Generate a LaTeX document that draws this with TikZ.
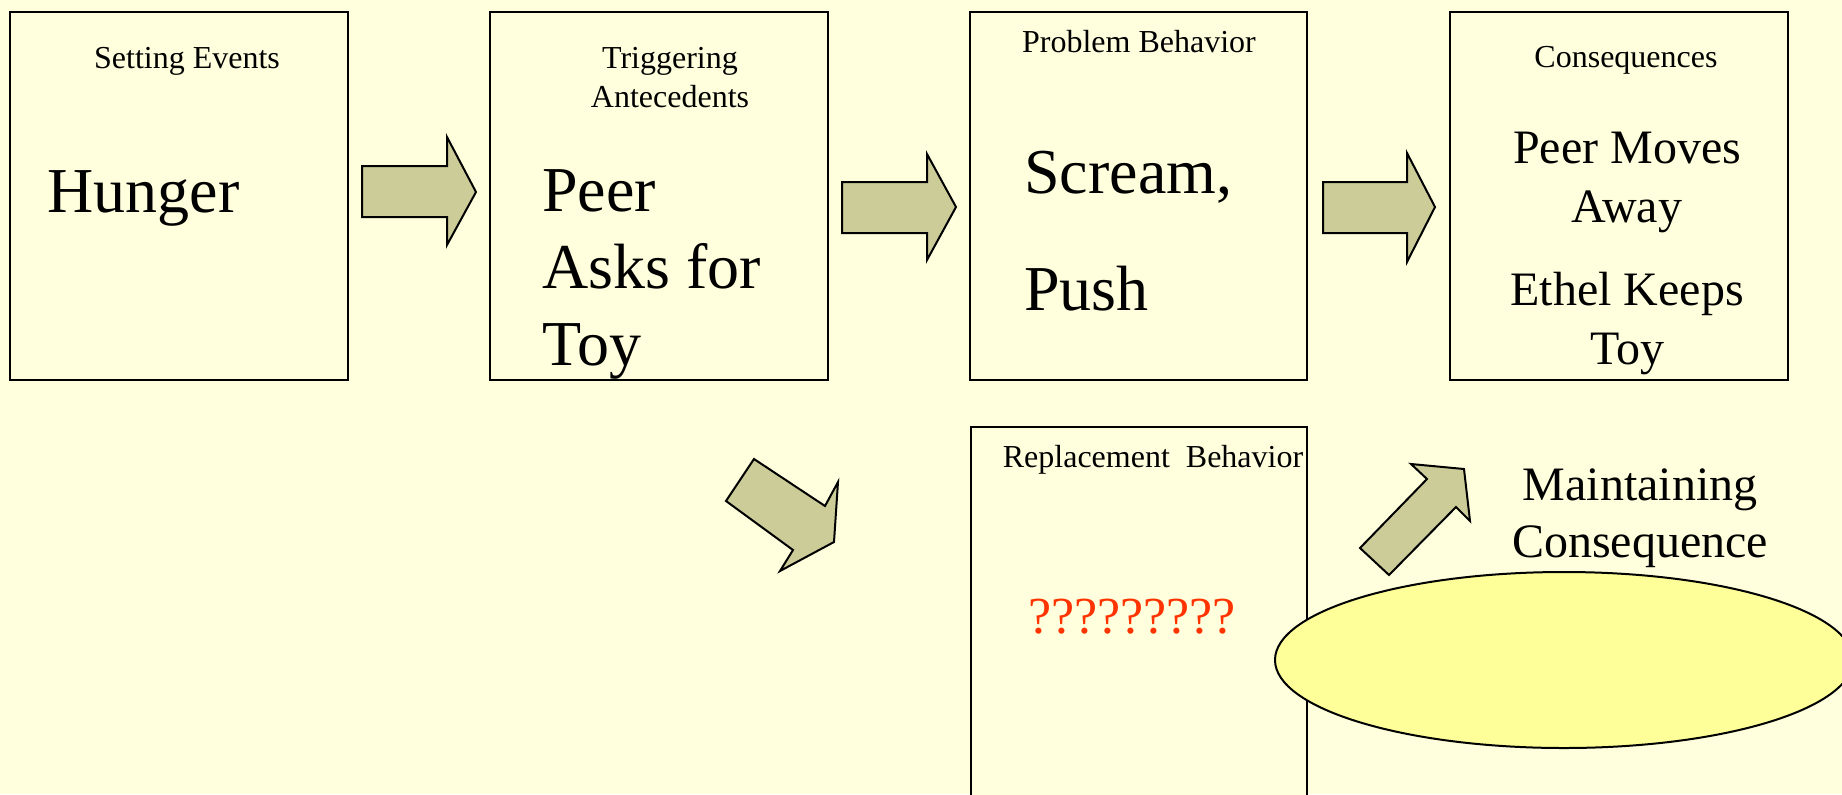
\documentclass[tikz,border=0pt]{standalone}
\usepackage{fontspec}
\setmainfont{Liberation Serif}
\usetikzlibrary{shapes.geometric}
\definecolor{bgc}{HTML}{FFFFDD}
\definecolor{arrowc}{HTML}{CCCC99}
\definecolor{ellc}{HTML}{FFFF99}
\definecolor{qred}{HTML}{FF3300}
\tikzset{
  box/.style={draw=black, line width=1pt, fill=bgc, rectangle, inner sep=0pt},
  blockarrow/.style={draw=black, line width=1pt, fill=arrowc, line join=miter},
  hd/.style={font=\fontsize{16}{19.5}\selectfont, inner sep=0pt, anchor=base},
  bigtxt/.style={inner sep=0pt, anchor=base west},
  midtxt/.style={font=\fontsize{24}{29.5}\selectfont, inner sep=0pt, anchor=base},
}
\begin{document}
\begin{tikzpicture}[x=0.5pt,y=-0.5pt]
\useasboundingbox (0,0) rectangle (1842,794);
\fill[bgc] (0,0) rectangle (1842,794);

% boxes
\node[box, minimum width=169pt, minimum height=184pt] (se) at (179,196) {};
\node[box, minimum width=169pt, minimum height=184pt] (ta) at (659,196) {};
\node[box, minimum width=168.5pt, minimum height=184pt] (pb) at (1138.5,196) {};
\node[box, minimum width=169pt, minimum height=184pt] (co) at (1619,196) {};
\draw[line width=1pt, fill=bgc] (971,800) -- (971,427) -- (1307,427) -- (1307,800);
\coordinate (rb) at (1139,427);

% headings
\node[hd] (seh) at (187,68) {Setting Events};
\node[hd] (tah) at (670,68) {\begin{tabular}[t]{@{}c@{}}Triggering\\Antecedents\end{tabular}};
\node[hd] (pbh) at (1139,52) {Problem Behavior};
\node[hd] (coh) at (1626,67) {Consequences};
\node[hd] (rbh) at (1153,467) {Replacement\ \ Behavior};

% contents
\node[bigtxt, font=\fontsize{32}{38.5}\selectfont] (hun) at (47,212) {Hunger};
\node[bigtxt, font=\fontsize{32}{38.5}\selectfont] (peer) at (542,211) {\begin{tabular}[t]{@{}l@{}}Peer\\Asks for\\Toy\end{tabular}};
\node[bigtxt, font=\fontsize{32}{58.5}\selectfont] (scr) at (1024,193) {\begin{tabular}[t]{@{}l@{}}Scream,\\Push\end{tabular}};
\node[midtxt] (pm) at (1627,163) {\begin{tabular}[t]{@{}c@{}}Peer Moves\\Away\end{tabular}};
\node[midtxt] (ek) at (1627,305) {\begin{tabular}[t]{@{}c@{}}Ethel Keeps\\Toy\end{tabular}};
\node[inner sep=0pt, anchor=base, text=qred, font=\fontsize{26}{30}\selectfont] (qq) at (1132,633) {?????????};

% block arrows
\path[blockarrow] (362,166) -- (447,166) -- (447,137) -- (476,192) -- (447,245) -- (447,217) -- (362,217) -- cycle;
\path[blockarrow] (842,182) -- (927,182) -- (927,154) -- (956,207) -- (927,260) -- (927,233) -- (842,233) -- cycle;
\path[blockarrow] (1323,182) -- (1407,182) -- (1407,153) -- (1435,207) -- (1407,262) -- (1407,233) -- (1323,233) -- cycle;
\path[blockarrow] (754,459) -- (825,506) -- (838,482) -- (834,542) -- (780,571) -- (793,550) -- (726,501) -- cycle;
\path[blockarrow] (1411,464) -- (1464,469) -- (1470,521) -- (1456,507) -- (1389,575) -- (1360,548) -- (1427,479) -- cycle;

% ellipse and its label
\node[ellipse, draw=black, line width=1pt, fill=ellc, minimum width=289pt, minimum height=88pt, inner sep=0pt] (mcell) at (1564,660) {};
\node[midtxt] (mc) at (1640,500) {\begin{tabular}[t]{@{}c@{}}Maintaining\\[-1pt]Consequence\end{tabular}};
\end{tikzpicture}
\end{document}
